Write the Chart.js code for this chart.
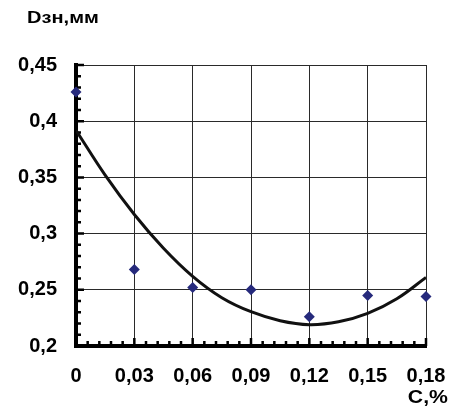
<!DOCTYPE html>
<html>
<head>
<meta charset="utf-8">
<script src="https://cdn.jsdelivr.net/npm/chart.js@4/dist/chart.umd.min.js"></script>
<style>
  html, body { margin: 0; padding: 0; background: #fff; }
  #wrap { width: 453px; height: 409px; position: relative; }
</style>
</head>
<body>
<div id="wrap"><canvas id="chart"></canvas></div>
<script>
// Measured points
const cValues = [0, 0.03, 0.06, 0.09, 0.12, 0.15, 0.18];
const dValues = [0.426, 0.268, 0.252, 0.250, 0.226, 0.245, 0.244];

// Trend curve
const trendX = [0, 0.015, 0.03, 0.045, 0.06, 0.075, 0.09, 0.105, 0.12, 0.135, 0.15, 0.165, 0.18];
const trendY = [0.392, 0.352, 0.317, 0.287, 0.262, 0.243, 0.2305, 0.2225, 0.219, 0.2215, 0.229, 0.242, 0.261];

// Axis ticks
const xTicks = [0, 0.03, 0.06, 0.09, 0.12, 0.15, 0.18];
const yTicks = [0.2, 0.25, 0.3, 0.35, 0.4, 0.45];
const xMinorStep = 0.006;
const yMinorStep = 0.01;

const xTitle = 'C,%';
const yTitle = 'Dзн,мм';

const FONT = '"Liberation Sans", Arial, sans-serif';

// format 0.05 -> "0,05"
function fmt(v) {
  return String(Number(v.toFixed(3))).replace('.', ',');
}

// draw text a bit wider, like the original
function wideText(ctx, text, x, y, align) {
  const sx = 1.18;
  ctx.save();
  ctx.translate(x, y);
  ctx.scale(sx, 1);
  ctx.textAlign = align;
  ctx.fillText(text, 0, 0);
  ctx.restore();
}

// small inward ticks on both axes + axis titles
const axisExtras = {
  id: 'axisExtras',
  beforeDatasetsDraw(chart) {
    const ctx = chart.ctx;
    const xs = chart.scales.x;
    const ys = chart.scales.y;
    const area = chart.chartArea;
    ctx.save();
    ctx.strokeStyle = '#000';
    ctx.lineWidth = 2.5;
    ctx.beginPath();
    const nx = Math.round((xs.max - xs.min) / xMinorStep);
    for (let i = 0; i <= nx; i++) {
      const px = xs.getPixelForValue(xs.min + i * xMinorStep);
      const len = (i % 5 === 0) ? 8 : 5;
      ctx.moveTo(px, area.bottom);
      ctx.lineTo(px, area.bottom - len);
    }
    const ny = Math.round((ys.max - ys.min) / yMinorStep);
    for (let i = 0; i <= ny; i++) {
      const py = ys.getPixelForValue(ys.min + i * yMinorStep);
      const len = (i % 5 === 0) ? 8 : 5;
      ctx.moveTo(area.left, py);
      ctx.lineTo(area.left + len, py);
    }
    ctx.stroke();

    ctx.fillStyle = '#000';
    ctx.font = 'bold 17px ' + FONT;
    ctx.textBaseline = 'middle';
    wideText(ctx, yTitle, 27, 18, 'left');
    ctx.font = 'bold 18px ' + FONT;
    wideText(ctx, xTitle, 448, 398, 'right');
    ctx.restore();
  }
};

const ctx = document.getElementById('chart').getContext('2d');
new Chart(ctx, {
  type: 'scatter',
  data: {
    datasets: [
      {
        label: 'points',
        data: cValues.map((c, i) => ({ x: c, y: dValues[i] })),
        pointStyle: 'rectRot',
        pointRadius: 5.5,
        backgroundColor: '#262a7c',
        borderColor: '#262a7c',
        borderWidth: 0,
        clip: false,
        order: 1
      },
      {
        label: 'trend',
        type: 'line',
        data: trendX.map((c, i) => ({ x: c, y: trendY[i] })),
        showLine: true,
        borderColor: '#111',
        borderWidth: 3,
        pointRadius: 0,
        tension: 0.4,
        fill: false,
        order: 2
      }
    ]
  },
  options: {
    responsive: true,
    maintainAspectRatio: false,
    animation: false,
    layout: { padding: { top: 65, right: 27, left: 0, bottom: 0 } },
    plugins: {
      legend: { display: false },
      tooltip: { enabled: false }
    },
    scales: {
      x: {
        type: 'linear',
        min: 0,
        max: 0.18,
        afterBuildTicks: s => { s.ticks = xTicks.map(v => ({ value: v })); },
        afterFit: s => { s.height = 63; s.paddingLeft = 0; s.paddingRight = 0; },
        ticks: {
          callback: v => fmt(v),
          color: '#000',
          font: { family: FONT, size: 20, weight: 'bold' },
          padding: 18,
          maxRotation: 0,
          autoSkip: false
        },
        grid: { color: '#2a2a2a', lineWidth: 1, drawTicks: false },
        border: { color: '#000', width: 4 }
      },
      y: {
        type: 'linear',
        min: 0.2,
        max: 0.45,
        afterBuildTicks: s => { s.ticks = yTicks.map(v => ({ value: v })); },
        afterFit: s => { s.width = 76; s.paddingTop = 0; s.paddingBottom = 0; },
        ticks: {
          callback: v => fmt(v),
          color: '#000',
          font: { family: FONT, size: 20, weight: 'bold' },
          padding: 19,
          autoSkip: false
        },
        grid: { color: '#2a2a2a', lineWidth: 1, drawTicks: false },
        border: { color: '#000', width: 4 }
      }
    }
  },
  plugins: [axisExtras]
});
</script>
</body>
</html>
